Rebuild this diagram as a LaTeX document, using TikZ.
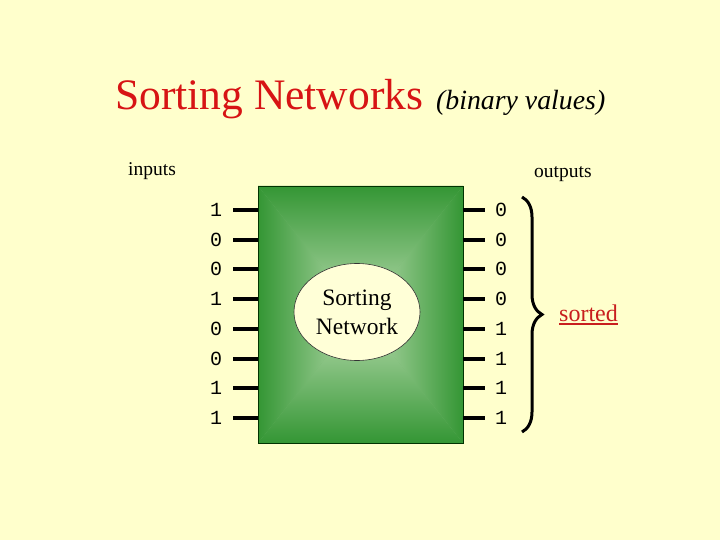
\documentclass[tikz,border=0pt]{standalone}
\usepackage{fontspec}
\setmainfont{Liberation Serif}
\newfontfamily\digitfont{Liberation Mono}
\usetikzlibrary{shapes.geometric,decorations.pathreplacing}
\definecolor{bgcream}{RGB}{255,255,204}
\definecolor{titlered}{RGB}{215,20,20}
\definecolor{sortred}{RGB}{200,30,30}
\definecolor{gdark}{RGB}{52,150,52}
\definecolor{glight}{RGB}{185,220,175}
\definecolor{ellfill}{RGB}{255,255,215}
\tikzset{
  digit/.style={font=\digitfont\fontsize{20}{20}\selectfont, inner sep=0pt, anchor=center},
  wire/.style={line width=4pt, black},
  lbl/.style={font=\fontsize{19.5}{20}\selectfont, inner sep=0pt, anchor=base west},
}
\begin{document}
\begin{tikzpicture}[x=1pt,y=-1pt]
\fill[bgcream] (0,0) rectangle (720,540);
\useasboundingbox (0,0) rectangle (720,540);

% title
\node[inner sep=0pt, anchor=base west, text=titlered, font=\fontsize{43.5}{44}\selectfont] (title) at (115,110) {Sorting Networks};
\node[inner sep=0pt, anchor=base west, font=\itshape\fontsize{27.8}{28}\selectfont] (sub) at (436,110) {(binary values)};

\node[lbl] (inlbl) at (128,176) {inputs};
\node[lbl] (outlbl) at (534,178) {outputs};

% box with pillow shading
\coordinate (c) at (360.5,314.5);
\fill[gdark!50!glight] (258,186) rectangle (463,443);
\shade[top color=gdark, bottom color=glight] (258,186) -- (463,186) -- (c) -- cycle;
\shade[bottom color=gdark, top color=glight] (258,443) -- (463,443) -- (c) -- cycle;
\shade[left color=gdark, right color=glight] (258,186) -- (258,443) -- (c) -- cycle;
\shade[right color=gdark, left color=glight] (463,186) -- (463,443) -- (c) -- cycle;
\node[draw=black!80!green, line width=0.8pt, minimum width=205pt, minimum height=257pt, inner sep=0pt] (box) at (360.5,314.5) {};

% ellipse
\node[ellipse, draw=black!80, line width=0.6pt, fill=ellfill, minimum width=126pt, minimum height=97pt, inner sep=0pt, align=center, font=\fontsize{23.5}{29}\selectfont] (sn) at (357,312) {Sorting\\Network};

% inputs and outputs
\foreach \i/\a/\b in {0/1/0,1/0/0,2/0/0,3/1/0,4/0/1,5/0/1,6/1/1,7/1/1} {
  \pgfmathsetmacro{\yy}{210+29.7*\i}
  \node[digit] (in\i) at (216,\yy) {\a};
  \node[digit] (out\i) at (501,\yy) {\b};
  \coordinate (ls\i) at (233,\yy);
  \coordinate (re\i) at (485,\yy);
  \draw[wire] (ls\i) -- (ls\i -| box.west);
  \draw[wire] (re\i -| box.east) -- (re\i);
}

% brace
\coordinate (bt) at (522,197);
\coordinate (bb) at (522,432);
\draw[line width=3pt, decorate, decoration={brace, amplitude=20pt}] (bt) -- (bb);

\node[inner sep=0pt, anchor=base west, text=sortred, font=\fontsize{24}{24}\selectfont] (sorted) at (559,321) {sorted};
\draw[sortred, line width=1.5pt] ([yshift=-3pt]sorted.base west) -- ([yshift=-3pt]sorted.base east);
\end{tikzpicture}
\end{document}
